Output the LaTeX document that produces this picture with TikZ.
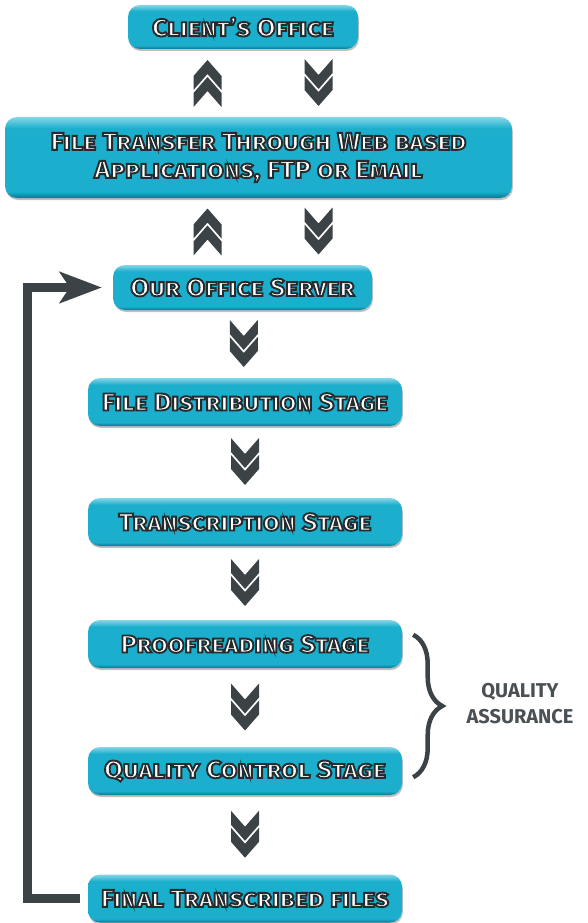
\documentclass[tikz,border=0pt]{standalone}
\usepackage{fontspec}
\setmainfont{Fira Sans}
\newfontfamily\boxfont{Fira Sans}[FakeStretch=1.1]
\usepackage{tikz}
\usetikzlibrary{calc}
\usetikzlibrary{arrows.meta,shadows}
\usetikzlibrary{decorations.pathreplacing}

\definecolor{boxcyan}{HTML}{1CAFCD}
\definecolor{boxlight}{HTML}{86D6E8}
\definecolor{boxdark}{HTML}{0A7690}
\definecolor{chevgray}{HTML}{3C4346}
\definecolor{qagray}{HTML}{4A5053}

\pgfdeclareverticalshading{boxshade}{100bp}{color(0bp)=(boxdark); color(25bp)=(boxdark); color(29bp)=(boxcyan); color(68bp)=(boxcyan); color(75bp)=(boxlight); color(100bp)=(boxlight)}

% white letters with a dark rim
\newcommand{\outl}[1]{\special{pdf:literal direct 2 Tr 1.9 w 0.15 0.17 0.18 RG}#1\special{pdf:literal direct 0 Tr 0.4 w}}

\tikzset{
  stagebox/.style={rounded corners=12pt, shade, shading=boxshade, text=white, inner sep=0pt,
    minimum width=314pt, minimum height=48pt, align=center,
    font=\boxfont\fontsize{24.5}{28}\selectfont\bfseries\scshape,
    drop shadow={shadow xshift=0.8pt, shadow yshift=-2pt, opacity=0.25, fill=black}},
  qalabel/.style={text=qagray, align=center, font=\fontsize{20}{26}\selectfont\bfseries},
  loopline/.style={line width=9pt, chevgray},
  chevdown/.pic={
    \fill[chevgray] (-14,-24) -- (0,-8) -- (14,-24) -- (14,-10) -- (0,6) -- (-14,-10) -- cycle;
    \fill[chevgray] (-14,-7) -- (0,9) -- (14,-7) -- (14,7) -- (0,23) -- (-14,7) -- cycle;
  },
  chevup/.pic={
    \fill[chevgray] (-14,24) -- (0,8) -- (14,24) -- (14,10) -- (0,-6) -- (-14,10) -- cycle;
    \fill[chevgray] (-14,7) -- (0,-9) -- (14,7) -- (14,-7) -- (0,-23) -- (-14,-7) -- cycle;
  }
}

\begin{document}
\begin{tikzpicture}[x=1pt,y=-1pt]
\fill[white] (0,0) rectangle (588,923);
\useasboundingbox (0,0) rectangle (588,923);

% Client and file transfer
\node[stagebox, minimum width=230pt, minimum height=44pt] (client) at (243,27) {\outl{Client’s Office}};
\node[stagebox, minimum width=507pt, minimum height=81pt] (transfer) at (258.5,157.5)
  {\outl{File Transfer Through Web based}\\\outl{Applications, FTP or Email}};
\node[stagebox, minimum width=259pt, minimum height=45pt] (server) at (242.5,287.5) {\outl{Our Office Server}};

% Stages
\node[stagebox] (distrib) at (245,402) {\outl{File Distribution Stage}};
\node[stagebox] (transcr) at (245,522) {\outl{Transcription Stage}};
\node[stagebox] (proof) at (245,644) {\outl{Proofreading Stage}};
\node[stagebox] (qc) at (245,771) {\outl{Quality Control Stage}};
\node[stagebox] (final) at (245,898.5) {\outl{Final Transcribed files}};

% Two way chevrons
\coordinate (upcol) at (207.5,0);
\coordinate (dncol) at (318.5,0);
\path ($(client.south)!0.5!(transfer.north)$) coordinate (m1)
      ($(transfer.south)!0.5!(server.north)$) coordinate (m2);
\pic at (upcol |- m1) {chevup};
\pic at (dncol |- m1) {chevdown};
\pic at (upcol |- m2) {chevup};
\pic at (dncol |- m2) {chevdown};

% One way chevrons
\pic at ($(server.south)!0.5!(distrib.north)$) {chevdown};
\pic at ($(distrib.south)!0.5!(transcr.north)$) {chevdown};
\pic at ($(transcr.south)!0.5!(proof.north)$) {chevdown};
\pic at ($(proof.south)!0.5!(qc.north)$) {chevdown};
\pic at ($(qc.south)!0.5!(final.north)$) {chevdown};

% Loop back to server
\coordinate (loopx) at (27.5,0);
\draw[loopline, -{Stealth[length=42pt,width=31pt,inset=10pt]}]
  ([xshift=-8pt]final.west) -- (loopx |- final.west) -- (loopx |- server.west)
  -- ([xshift=-11pt]server.west);

% Quality assurance
\draw[chevgray, line width=4.5pt, decorate, decoration={brace, amplitude=29pt}]
  ($(proof.north east)+(11,15)$) -- ($(qc.south east)+(11,-18)$);
\node[qalabel] (qa) at (520,704) {QUALITY\\ASSURANCE};
\end{tikzpicture}
\end{document}
